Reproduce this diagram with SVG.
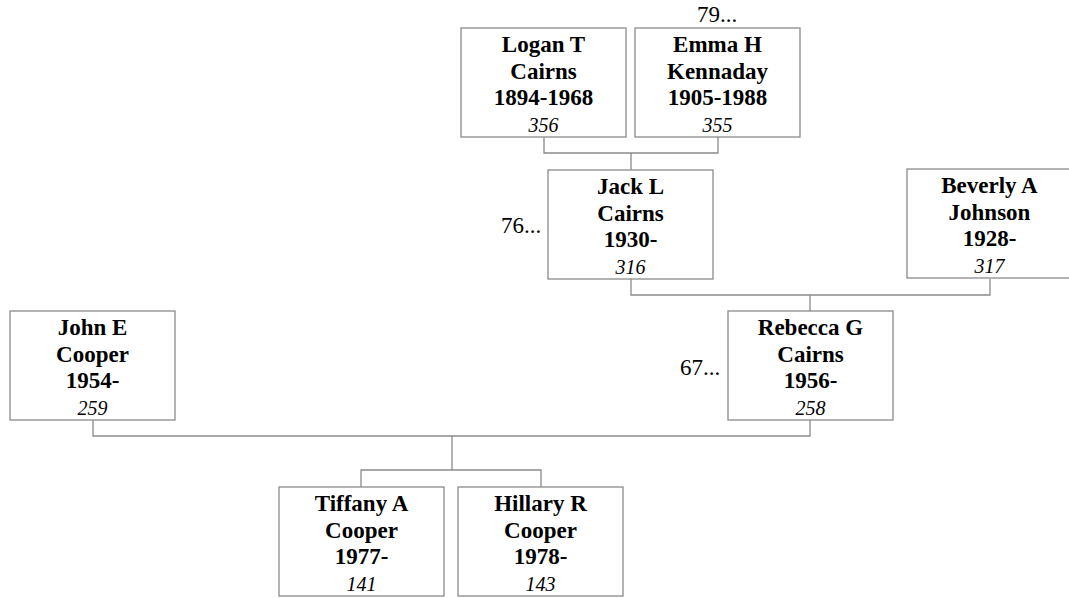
<svg xmlns="http://www.w3.org/2000/svg" width="1069" height="598" viewBox="0 0 1069 598">
<style>
.box{fill:#fff;stroke:#8a8a8a;stroke-width:1.3}
.n{font-family:"Liberation Serif",serif;font-weight:bold;font-size:23px;text-anchor:middle;fill:#000}
.i{font-family:"Liberation Serif",serif;font-style:italic;font-size:20px;text-anchor:middle;fill:#000}
.m{font-family:"Liberation Serif",serif;font-size:23px;fill:#000}
.c{fill:none;stroke:#8a8a8a;stroke-width:1.3}
</style>
<rect width="1069" height="598" fill="#fff"/>
<g id="connectors">
<path class="c" d="M544 137V153H718V137M631 153V170"/>
<path class="c" d="M631 279V295H990V279M810 295V311"/>
<path class="c" d="M93 420V436H810V420M452 436V470M361 487V470H541V487"/>
</g>
<g id="logan">
<rect class="box" x="461" y="28" width="165" height="109"/>
<text class="n" x="543.5" y="52">Logan T</text>
<text class="n" x="543.5" y="78.5">Cairns</text>
<text class="n" x="543.5" y="105">1894-1968</text>
<text class="i" x="543.5" y="131.5">356</text>
</g>
<g id="emma">
<rect class="box" x="635" y="28" width="165" height="109"/>
<text class="n" x="717.5" y="52">Emma H</text>
<text class="n" x="717.5" y="78.5">Kennaday</text>
<text class="n" x="717.5" y="105">1905-1988</text>
<text class="i" x="717.5" y="131.5">355</text>
<text class="m" x="697" y="22">79...</text>
</g>
<g id="jack">
<rect class="box" x="548" y="170" width="165" height="109"/>
<text class="n" x="630.5" y="194">Jack L</text>
<text class="n" x="630.5" y="220.5">Cairns</text>
<text class="n" x="630.5" y="247">1930-</text>
<text class="i" x="630.5" y="273.5">316</text>
<text class="m" x="501" y="233">76...</text>
</g>
<g id="beverly">
<rect class="box" x="907" y="169" width="165" height="109"/>
<text class="n" x="989.5" y="193">Beverly A</text>
<text class="n" x="989.5" y="219.5">Johnson</text>
<text class="n" x="989.5" y="246">1928-</text>
<text class="i" x="989.5" y="272.5">317</text>
</g>
<g id="rebecca">
<rect class="box" x="728" y="311" width="165" height="109"/>
<text class="n" x="810.5" y="335">Rebecca G</text>
<text class="n" x="810.5" y="361.5">Cairns</text>
<text class="n" x="810.5" y="388">1956-</text>
<text class="i" x="810.5" y="414.5">258</text>
<text class="m" x="680" y="375">67...</text>
</g>
<g id="john">
<rect class="box" x="10" y="311" width="165" height="109"/>
<text class="n" x="92.5" y="335">John E</text>
<text class="n" x="92.5" y="361.5">Cooper</text>
<text class="n" x="92.5" y="388">1954-</text>
<text class="i" x="92.5" y="414.5">259</text>
</g>
<g id="tiffany">
<rect class="box" x="279" y="487" width="165" height="109"/>
<text class="n" x="361.5" y="511">Tiffany A</text>
<text class="n" x="361.5" y="537.5">Cooper</text>
<text class="n" x="361.5" y="564">1977-</text>
<text class="i" x="361.5" y="590.5">141</text>
</g>
<g id="hillary">
<rect class="box" x="458" y="487" width="165" height="109"/>
<text class="n" x="540.5" y="511">Hillary R</text>
<text class="n" x="540.5" y="537.5">Cooper</text>
<text class="n" x="540.5" y="564">1978-</text>
<text class="i" x="540.5" y="590.5">143</text>
</g>
</svg>
